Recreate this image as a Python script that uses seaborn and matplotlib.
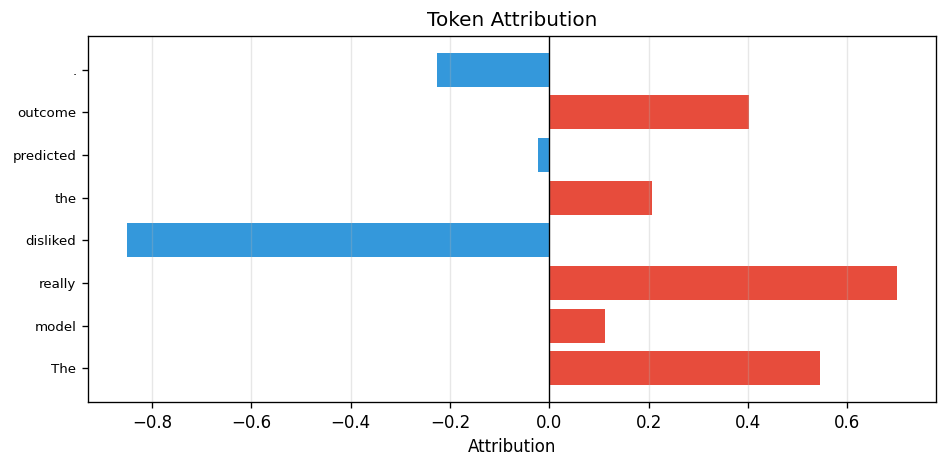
import matplotlib
matplotlib.use("Agg")
import matplotlib.pyplot as plt
import numpy as np
import pandas as pd
import seaborn as sns

# tokens in sentence order (bottom to top in the chart)
tokens = ["The", "model", "really", "disliked", "the", "predicted", "outcome", "."]
scores = [0.544, 0.112, 0.700, -0.851, 0.206, -0.022, 0.401, -0.226]

d = pd.DataFrame({"token": tokens, "attribution": scores})
d["sign"] = np.where(d["attribution"] >= 0, "pos", "neg")

fig, ax = plt.subplots(figsize=(7.9, 3.9), dpi=120)

sns.barplot(data=d, x="attribution", y="token", hue="sign",
            order=tokens[::-1], orient="h", dodge=False, width=0.8,
            palette={"pos": "#e74c3c", "neg": "#3498db"},
            legend=False, ax=ax, saturation=1)

ax.axvline(0, color="black", linewidth=0.8)
ax.set_ylim(len(tokens) - 1 + 0.79, -0.79)
ax.grid(axis="x", alpha=0.3)
ax.set_title("Token Attribution", fontsize=12)
ax.set_xlabel("Attribution", fontsize=10)
ax.set_ylabel("")
ax.tick_params(axis="y", labelsize=8)
ax.tick_params(axis="x", labelsize=10)

fig.subplots_adjust(left=0.093, right=0.987, top=0.923, bottom=0.141)
fig.savefig("out.png", dpi=120)
